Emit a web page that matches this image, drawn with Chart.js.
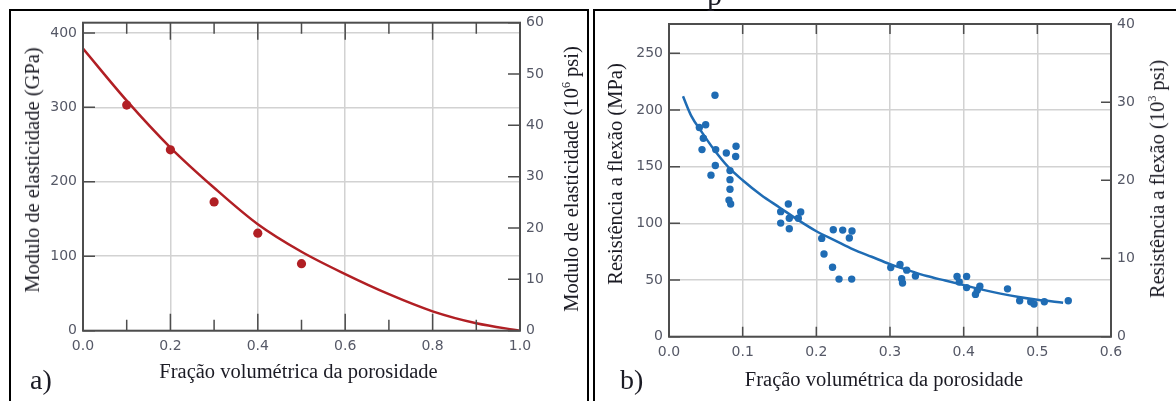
<!DOCTYPE html>
<html>
<head>
<meta charset="utf-8">
<script src="https://cdn.jsdelivr.net/npm/chart.js@4.4.1/dist/chart.umd.min.js"></script>
<style>
html, body { margin: 0; padding: 0; background: #fff; }
#page { position: relative; width: 1176px; height: 401px; overflow: hidden; background: #fff; }
.panel { position: absolute; border: 2px solid #000; border-bottom: none; box-sizing: border-box; }
canvas { position: absolute; top: 0; }
.t { position: absolute; font-family: "Liberation Serif", "Times New Roman", serif; color: #1b1b24;
     white-space: nowrap; font-size: 20.5px; line-height: 24px; }
.rot { transform: translate(-50%, -50%) rotate(-90deg); }
.hc { transform: translateX(-50%); }
.t sup { font-size: 12px; line-height: 0; vertical-align: 8px; }
.lbl { font-size: 28px; line-height: 28px; }
</style>
</head>
<body>
<div id="page">
  <div class="panel" style="left:9px; top:9px; width:580px; height:400px;"></div>
  <div class="panel" style="left:593px; top:9px; width:600px; height:400px;"></div>

  <canvas id="cA" width="590" height="401" style="left:0px;"></canvas>
  <canvas id="cB" width="586" height="401" style="left:590px;"></canvas>

  <div class="t" style="left:707px; top:-20px; font-size:30px; line-height:30px;">p</div>

  <div class="t rot" style="left:31.5px; top:170px;">Modulo de elasticidade (GPa)</div>
  <div class="t rot" style="left:570.5px; top:178.5px;">Modulo de elasticidade (10<sup>6</sup> psi)</div>
  <div class="t hc" style="left:298.5px; top:359px;">Fração volumétrica da porosidade</div>
  <div class="t lbl" style="left:30px; top:365.5px;">a)</div>

  <div class="t rot" style="left:615px; top:174px;">Resistência a flexão (MPa)</div>
  <div class="t rot" style="left:1157px; top:178.5px;">Resistência a flexão (10<sup>3</sup> psi)</div>
  <div class="t hc" style="left:884px; top:366.5px;">Fração volumétrica da porosidade</div>
  <div class="t lbl" style="left:620px; top:366px;">b)</div>
</div>

<script>
// ---- panel a: modulo de elasticidade ----
const xTicksA = [0, 0.2, 0.4, 0.6, 0.8, 1.0];
const xMinorA = [0.1, 0.3, 0.5, 0.7, 0.9];
const yTicksA = [0, 100, 200, 300, 400];      // GPa
const y2TicksA = [0, 10, 20, 30, 40, 50, 60]; // 10^6 psi
const yMaxA = 413.7;                          // = 60 x 10^6 psi
const y2MaxA = 60;

const porosA = [0.1, 0.2, 0.3, 0.4, 0.5];
const moduloA = [303, 243, 173, 131, 90];

const curveXA = [0, 0.1, 0.2, 0.3, 0.4, 0.5, 0.6, 0.7, 0.8, 0.9, 1.0];
const curveYA = [379, 309, 246, 192, 143, 106, 76, 49, 26, 10, 0];

// ---- panel b: resistencia a flexao ----
const xTicksB = [0, 0.1, 0.2, 0.3, 0.4, 0.5, 0.6];
const yTicksB = [0, 50, 100, 150, 200, 250];  // MPa
const y2TicksB = [0, 10, 20, 30, 40];         // 10^3 psi
const yMaxB = 275.8;                          // = 40 x 10^3 psi
const y2MaxB = 40;

const porosB = [
  0.0624, 0.0498, 0.0412, 0.0466, 0.0448, 0.0634, 0.0778, 0.091, 0.0905, 0.0629,
  0.057, 0.0828, 0.0828, 0.0828, 0.0814, 0.0837, 0.162, 0.1516, 0.1788, 0.1633,
  0.1755, 0.1516, 0.1633, 0.2073, 0.223, 0.2358, 0.2484, 0.2448, 0.2104, 0.222,
  0.2308, 0.248, 0.301, 0.3136, 0.3227, 0.3158, 0.317, 0.3345, 0.391, 0.404,
  0.394, 0.404, 0.422, 0.4185, 0.416, 0.4595, 0.476, 0.491, 0.4955, 0.5095, 0.542
];
const flexaoB = [
  213, 187, 184.5, 175, 165, 165, 162, 168, 159, 151,
  142.5, 146.5, 138.5, 130, 120.5, 117, 117, 110.3, 110, 104.5,
  104.5, 100.2, 95.2, 86.7, 94.3, 94, 93.2, 87, 73, 61.3,
  50.8, 50.8, 61, 63.7, 58.7, 51.1, 47.3, 53.6, 53.2, 53.2,
  48.2, 43.3, 44.6, 40.9, 37.3, 42.2, 31.7, 30.8, 28.8, 30.8, 31.7
];

const curveXB = [0.019, 0.03, 0.045, 0.06, 0.08, 0.1, 0.125, 0.15, 0.175, 0.2, 0.225, 0.25,
                 0.275, 0.3, 0.325, 0.35, 0.375, 0.4, 0.425, 0.45, 0.475, 0.5, 0.535];
const curveYB = [212, 195, 180, 166, 150, 138, 125, 114, 103, 93, 85, 77,
                 70.5, 64, 58.5, 53.5, 49.5, 45.5, 41.5, 38, 35, 32.5, 30];

const RED = '#b11f24';
const BLUE = '#1f6cb4';
const FRAME = '#4d4d4d';
const GRID = '#d2d2d2';
const TICK_FONT = { family: 'DejaVu Sans', size: 14 };
const TICK_COLOR = '#555866';

const xy = (xs, ys) => xs.map((x, i) => ({ x, y: ys[i] }));
const fixTicks = list => scale => { scale.ticks = list.map(v => ({ value: v })); };

// tick marks pointing into the plot, plus the plot frame
const innerTicks = {
  id: 'innerTicks',
  afterDraw(chart, args, opts) {
    const { ctx, chartArea: a, scales } = chart;
    ctx.save();
    ctx.strokeStyle = FRAME;
    ctx.lineWidth = 1.5;
    ctx.beginPath();
    const xMark = (v, len) => {
      const px = scales.x.getPixelForValue(v);
      ctx.moveTo(px, a.bottom); ctx.lineTo(px, a.bottom - len);
      ctx.moveTo(px, a.top); ctx.lineTo(px, a.top + len);
    };
    opts.xMajor.forEach(v => xMark(v, opts.xMajorLen));
    (opts.xMinor || []).forEach(v => xMark(v, opts.xMinorLen));
    scales.y.ticks.forEach(t => {
      const py = scales.y.getPixelForValue(t.value);
      ctx.moveTo(a.left, py); ctx.lineTo(a.left + opts.yLen, py);
    });
    scales.y2.ticks.forEach(t => {
      const py = scales.y2.getPixelForValue(t.value);
      ctx.moveTo(a.right, py); ctx.lineTo(a.right - opts.y2Len, py);
    });
    ctx.stroke();
    ctx.lineWidth = 2;
    ctx.strokeRect(a.left, a.top, a.right - a.left, a.bottom - a.top);
    ctx.restore();
  }
};

function makeChart(id, cfg) {
  return new Chart(document.getElementById(id), {
    type: 'scatter',
    data: {
      datasets: [{
        type: 'line',
        data: xy(cfg.curveX, cfg.curveY),
        borderColor: cfg.color,
        borderWidth: 2.5,
        pointRadius: 0,
        fill: false,
        cubicInterpolationMode: 'monotone',
      }, {
        data: xy(cfg.px, cfg.py),
        backgroundColor: cfg.color,
        borderColor: cfg.color,
        borderWidth: 0,
        pointRadius: cfg.radius,
      }],
    },
    options: {
      responsive: false,
      animation: false,
      devicePixelRatio: 1,
      layout: { padding: { top: cfg.top, left: 0, right: 0, bottom: 0 } },
      plugins: {
        legend: { display: false },
        tooltip: { enabled: false },
        innerTicks: cfg.marks,
      },
      scales: {
        x: {
          type: 'linear', min: 0, max: cfg.xMax,
          afterBuildTicks: fixTicks(cfg.xTicks),
          afterFit: s => { s.height = cfg.xHeight; },
          ticks: { callback: v => v.toFixed(1), padding: 7, font: TICK_FONT, color: TICK_COLOR,
                   autoSkip: false, maxRotation: 0 },
          grid: { color: GRID, lineWidth: 1.5, drawTicks: false },
          border: { display: false },
        },
        y: {
          type: 'linear', position: 'left', min: 0, max: cfg.yMax,
          afterBuildTicks: fixTicks(cfg.yTicks),
          afterFit: s => { s.width = cfg.yWidth; },
          ticks: { callback: v => String(v), padding: 6, font: TICK_FONT, color: TICK_COLOR },
          grid: { color: GRID, lineWidth: 1.5, drawTicks: false },
          border: { display: false },
        },
        y2: {
          type: 'linear', position: 'right', min: 0, max: cfg.y2Max,
          afterBuildTicks: fixTicks(cfg.y2Ticks),
          afterFit: s => { s.width = cfg.y2Width; },
          ticks: { callback: v => String(v), padding: 6, font: TICK_FONT, color: TICK_COLOR },
          grid: { display: false, drawTicks: false },
          border: { display: false },
        },
      },
    },
    plugins: [innerTicks],
  });
}

makeChart('cA', {
  curveX: curveXA, curveY: curveYA, px: porosA, py: moduloA, color: RED, radius: 4.6,
  top: 22.7, xHeight: 70.3, yWidth: 83, y2Width: 70,
  xMax: 1, yMax: yMaxA, y2Max: y2MaxA,
  xTicks: xTicksA, yTicks: yTicksA, y2Ticks: y2TicksA,
  marks: { xMajor: xTicksA, xMinor: xMinorA, xMajorLen: 17, xMinorLen: 11, yLen: 12, y2Len: 12 },
});

makeChart('cB', {
  curveX: curveXB, curveY: curveYB, px: porosB, py: flexaoB, color: BLUE, radius: 3.7,
  top: 24, xHeight: 64.3, yWidth: 79, y2Width: 65,
  xMax: 0.6, yMax: yMaxB, y2Max: y2MaxB,
  xTicks: xTicksB, yTicks: yTicksB, y2Ticks: y2TicksB,
  marks: { xMajor: xTicksB, xMajorLen: 10, yLen: 11, y2Len: 10 },
});
</script>
</body>
</html>
